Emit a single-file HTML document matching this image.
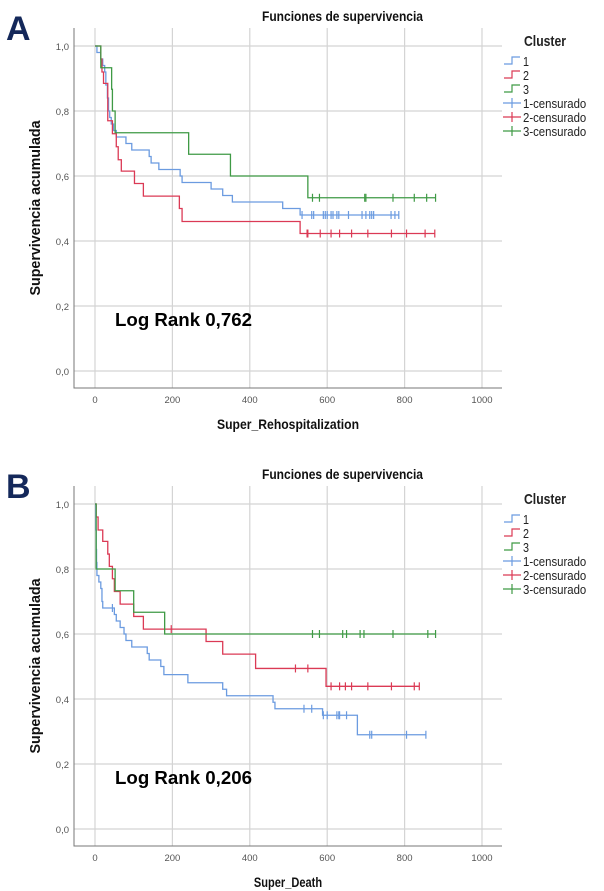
<!DOCTYPE html>
<html><head><meta charset="utf-8"><style>
html,body{margin:0;padding:0;background:#fff;}
svg{display:block;}
text{font-family:"Liberation Sans Narrow","Liberation Sans",sans-serif;}
</style></head><body>
<svg id="fig" width="604" height="891" viewBox="0 0 604 891" xmlns="http://www.w3.org/2000/svg"></svg>
<script>
// ---- Panel A data (Super_Rehospitalization) ----
const aBlueT=[0,5,15,20,25,28,32,35,38,42,48,55,80,95,140,145,165,220,225,300,330,355,485,530];
const aBlueS=[1,0.98,0.96,0.94,0.92,0.88,0.84,0.80,0.78,0.76,0.74,0.72,0.70,0.68,0.66,0.64,0.62,0.60,0.58,0.56,0.54,0.52,0.50,0.48];
const aBlueEnd=785;
const aBlueCens=[535,560,565,590,595,600,610,615,625,630,655,690,700,710,715,720,765,775,785];
const aRedT=[0,15,18,22,33,45,55,60,68,102,125,218,225,530];
const aRedS=[1,0.96,0.92,0.885,0.77,0.73,0.69,0.65,0.615,0.577,0.538,0.50,0.46,0.423];
const aRedEnd=878;
const aRedCens=[548,550,582,610,632,663,705,766,805,853,878];
const aGreenT=[0,15,43,45,52,242,350,550];
const aGreenS=[1,0.933,0.867,0.80,0.733,0.667,0.60,0.533];
const aGreenEnd=880;
const aGreenCens=[562,580,697,700,770,825,857,880];
// ---- Panel B data (Super_Death) ----
const bBlueT=[0,2,3,4,5,10,15,18,20,50,55,65,75,80,95,135,140,170,178,240,330,340,460,465,588,678];
const bBlueS=[1,0.92,0.86,0.82,0.78,0.76,0.74,0.70,0.68,0.66,0.64,0.62,0.60,0.58,0.56,0.54,0.52,0.50,0.475,0.45,0.43,0.41,0.39,0.37,0.35,0.29];
const bBlueEnd=855;
const bBlueCens=[45,540,560,590,600,625,630,632,650,710,715,805,855];
const bRedT=[0,3,8,20,33,37,45,50,65,100,125,287,330,415,597];
const bRedS=[1,0.96,0.92,0.885,0.846,0.808,0.77,0.731,0.692,0.654,0.615,0.577,0.538,0.494,0.439];
const bRedEnd=838;
const bRedCens=[197,518,550,610,632,647,663,705,766,825,838];
const bGreenT=[0,3,52,100,180];
const bGreenS=[1,0.80,0.733,0.667,0.60];
const bGreenEnd=880;
const bGreenCens=[562,580,640,650,685,695,770,860,880];

const xTicks=[0,200,400,600,800,1000];
const yTicks=[0,0.2,0.4,0.6,0.8,1.0];
const yTickLabels=["0,0","0,2","0,4","0,6","0,8","1,0"];
const legendLabels=["1","2","3","1-censurado","2-censurado","3-censurado"];
const COLORS={blue:"#6b9be0",red:"#db3a55",green:"#3f9a45"};

const NS="http://www.w3.org/2000/svg";
const svg=document.getElementById('fig');
function mk(tag,attrs,parent){const e=document.createElementNS(NS,tag);for(const k in attrs)e.setAttribute(k,attrs[k]);(parent||svg).appendChild(e);return e;}

function panel(oy,letter,xlabel,logrank,series){
  const g=mk('g',{});
  
  
  const X=v=>95+v*0.387;
  const Y=v=>oy+371-v*325;
  const L=mk('text',{x:6,y:oy+40,'font-size':34,'font-weight':'bold',fill:'#14285a','font-family':'Liberation Sans, sans-serif'},g);
  L.textContent=letter;
  
  
  const t=mk('text',{x:262,y:oy+21,'font-size':14,'font-weight':'bold',fill:'#111',textLength:161,lengthAdjust:'spacingAndGlyphs'},g);
  t.textContent="Funciones de supervivencia";
  
  
  xTicks.forEach(v=>{const l=mk('line',{x1:X(v),x2:X(v),y1:oy+28,y2:oy+388,stroke:'#d4d4d4','stroke-width':1.2},g);
    
    const tx=mk('text',{x:X(v),y:oy+403,'font-size':9.5,'text-anchor':'middle',fill:'#555'},g);tx.textContent=v;
    });
  yTicks.forEach((v,i)=>{const l=mk('line',{x1:74,x2:502,y1:Y(v),y2:Y(v),stroke:'#d4d4d4','stroke-width':1.2},g);
    
    const tx=mk('text',{x:69,y:Y(v)+4,'font-size':9.5,'text-anchor':'end',fill:'#555'},g);tx.textContent=yTickLabels[i];
    });
  const ax=mk('path',{d:`M74 ${oy+28} V${oy+388} H502`,fill:'none',stroke:'#777','stroke-width':1},g);
  
  const xl=mk('text',{x:217,y:oy+429,'font-size':14,'font-weight':'bold',fill:'#111',textLength:142,lengthAdjust:'spacingAndGlyphs'},g);xl.textContent=xlabel;
  if(xlabel.length<15){xl.setAttribute('textLength',xlabel.length*6.2);xl.setAttribute('x',288-xlabel.length*3.1);}
  
  const yl=mk('text',{x:0,y:0,'font-size':15,'font-weight':'bold','text-anchor':'middle',fill:'#111',textLength:175,lengthAdjust:'spacingAndGlyphs',transform:`translate(40 ${oy+208}) rotate(-90)`},g);yl.textContent="Supervivencia acumulada";
  
  const lr=mk('text',{x:115,y:oy+326,'font-size':18,'font-weight':'bold',fill:'#000','font-family':'Liberation Sans, sans-serif',textLength:137,lengthAdjust:'spacingAndGlyphs'},g);lr.textContent=logrank;
  
  series.forEach(s=>{
    let d=`M${X(s.t[0])} ${Y(s.s[0])}`;
    for(let i=1;i<s.t.length;i++){d+=` H${X(s.t[i])} V${Y(s.s[i])}`;}
    d+=` H${X(s.end)}`;
    const p=mk('path',{d,fill:'none',stroke:s.c,'stroke-width':1.3},g);
    
    
    s.cens.forEach(ct=>{
      let sv=s.s[0];for(let i=0;i<s.t.length;i++){if(s.t[i]<=ct)sv=s.s[i];}
      const m=mk('path',{d:`M${X(ct)} ${Y(sv)-4} V${Y(sv)+4}`,stroke:s.c,'stroke-width':1.2},g);
      
      
    });
  });
  const lg=mk('g',{},g);
  
  const ct=mk('text',{x:524,y:oy+46,'font-size':15,'font-weight':'bold',fill:'#222',textLength:42,lengthAdjust:'spacingAndGlyphs'},lg);ct.textContent="Cluster";
  
  const cols=[COLORS.blue,COLORS.red,COLORS.green,COLORS.blue,COLORS.red,COLORS.green];
  legendLabels.forEach((lab,i)=>{
    const y=oy+61+i*14;
    const e=mk('g',{},lg);
    
    if(i<3) mk('path',{d:`M504 ${y+3} H512 V${y-4} H520`,fill:'none',stroke:cols[i],'stroke-width':1.2},e);
    else { mk('path',{d:`M503 ${y} H521 M512 ${y-5} V${y+5}`,fill:'none',stroke:cols[i],'stroke-width':1.2},e); }
    const tx=mk('text',{x:523,y:y+5,'font-size':12.5,fill:'#222',textLength:Math.max(6,lab.length*5.75),lengthAdjust:'spacingAndGlyphs'},e);tx.textContent=lab;
  });
}
panel(0,"A","Super_Rehospitalization","Log Rank 0,762",[
  {n:1,t:aBlueT,s:aBlueS,end:aBlueEnd,cens:aBlueCens,c:COLORS.blue},
  {n:2,t:aRedT,s:aRedS,end:aRedEnd,cens:aRedCens,c:COLORS.red},
  {n:3,t:aGreenT,s:aGreenS,end:aGreenEnd,cens:aGreenCens,c:COLORS.green}]);
panel(458,"B","Super_Death","Log Rank 0,206",[
  {n:1,t:bBlueT,s:bBlueS,end:bBlueEnd,cens:bBlueCens,c:COLORS.blue},
  {n:2,t:bRedT,s:bRedS,end:bRedEnd,cens:bRedCens,c:COLORS.red},
  {n:3,t:bGreenT,s:bGreenS,end:bGreenEnd,cens:bGreenCens,c:COLORS.green}]);
</script>
</body></html>
